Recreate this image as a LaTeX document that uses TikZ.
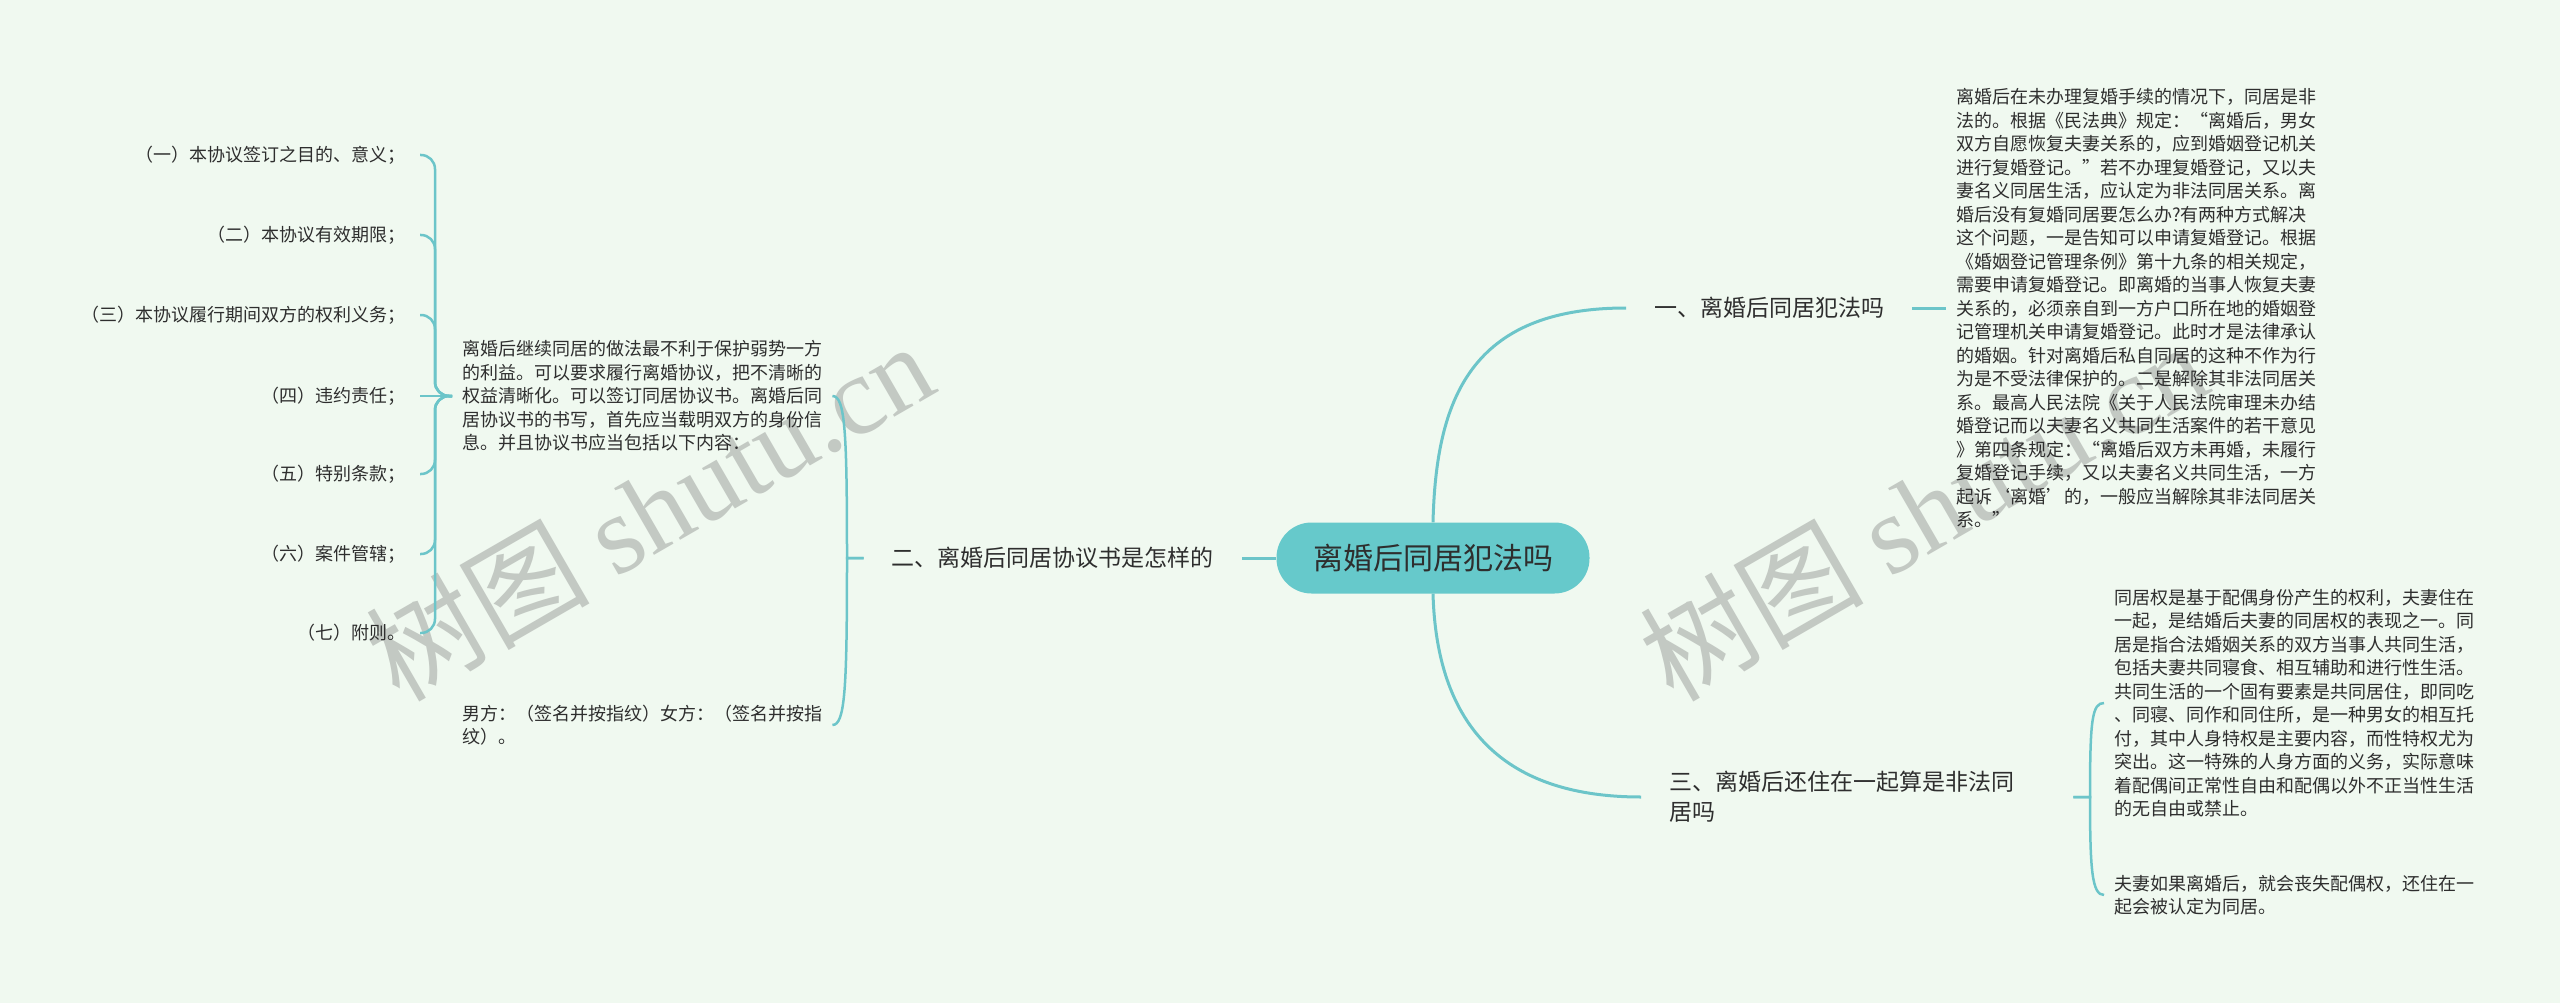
\documentclass[tikz,border=0pt]{standalone}
\usepackage{fontspec}
\setmainfont{Noto Sans CJK SC}
\newfontfamily\wmfont{Liberation Serif}
\usetikzlibrary{calc}

\definecolor{bgmint}{HTML}{F0F9F0}
\definecolor{linkteal}{HTML}{6CC5C9}
\definecolor{rootteal}{HTML}{66C9CB}
\definecolor{inkgray}{HTML}{2E2E2E}
\definecolor{markgray}{HTML}{C3C9C3}

\tikzset{
	root/.style = {fill = rootteal, rounded corners = 35pt, minimum width = 313pt, minimum height = 71pt, text = inkgray, font = \fontsize{30}{36}\selectfont},
	branch/.style = {text = inkgray, inner xsep = 28pt, inner ysep = 0pt, align = left, font = \fontsize{23}{30}\selectfont},
	leaf/.style = {text = inkgray, inner xsep = 10pt, inner ysep = 0pt, align = left, font = \fontsize{18}{23.5}\selectfont},
	listitem/.style = {text = inkgray, inner xsep = 14pt, inner ysep = 0pt, anchor = east, font = \fontsize{18}{23.5}\selectfont},
	link/.style = {draw = linkteal, line width = 3pt},
	brace/.style = {draw = linkteal, line width = 2.5pt},
	wmark/.style = {text = markgray, rotate = 30, font = \fontsize{112}{112}\selectfont}
}

\begin{document}
\begin{tikzpicture}[x = 1pt, y = -1pt]
				\fill[bgmint] (0,0) rectangle (2560,1003);
				\useasboundingbox (0,0) rectangle (2560,1003);
				
				\node (wm1) at (649,510)[wmark]{树图 {\wmfont shutu.cn}};
				\node (wm2) at (1923,510)[wmark]{树图 {\wmfont shutu.cn}};
				
				\node (root) at (1433,558)[root]{离婚后同居犯法吗};
				
				\node (b1) at (1626,308)[branch, anchor = west]{一、离婚后同居犯法吗};
				\node (t1) at (1946,308)[leaf, anchor = west]{离婚后在未办理复婚手续的情况下，同居是非\\法的。根据《民法典》规定：“离婚后，男女\\双方自愿恢复夫妻关系的，应到婚姻登记机关\\进行复婚登记。”若不办理复婚登记，又以夫\\妻名义同居生活，应认定为非法同居关系。离\\婚后没有复婚同居要怎么办?有两种方式解决\\这个问题，一是告知可以申请复婚登记。根据\\《婚姻登记管理条例》第十九条的相关规定，\\需要申请复婚登记。即离婚的当事人恢复夫妻\\关系的，必须亲自到一方户口所在地的婚姻登\\记管理机关申请复婚登记。此时才是法律承认\\的婚姻。针对离婚后私自同居的这种不作为行\\为是不受法律保护的。二是解除其非法同居关\\系。最高人民法院《关于人民法院审理未办结\\婚登记而以夫妻名义共同生活案件的若干意见\\》第四条规定：“离婚后双方未再婚，未履行\\复婚登记手续，又以夫妻名义共同生活，一方\\起诉‘离婚’的，一般应当解除其非法同居关\\系。”};
				
				\node (b2) at (1242,558)[branch, anchor = east]{二、离婚后同居协议书是怎样的};
				\node (t2a) at (452,396)[leaf, anchor = west, text width = 360pt]{离婚后继续同居的做法最不利于保护弱势一方\\的利益。可以要求履行离婚协议，把不清晰的\\权益清晰化。可以签订同居协议书。离婚后同\\居协议书的书写，首先应当载明双方的身份信\\息。并且协议书应当包括以下内容：};
				\node (t2b) at (452,725)[leaf, anchor = west, text width = 360pt]{男方：（签名并按指纹）女方：（签名并按指\\纹）。};
				
				\node (i1) at (420,155)[listitem]{（一）本协议签订之目的、意义；};
				\node (i2) at (420,235)[listitem]{（二）本协议有效期限；};
				\node (i3) at (420,315)[listitem]{（三）本协议履行期间双方的权利义务；};
				\node (i4) at (420,396)[listitem]{（四）违约责任；};
				\node (i5) at (420,474)[listitem]{（五）特别条款；};
				\node (i6) at (420,554)[listitem]{（六）案件管辖；};
				\node (i7) at (420,633)[listitem]{（七）附则。};
				
				\node (b3) at (1641,797)[branch, anchor = west, text width = 376pt]{三、离婚后还住在一起算是非法同\\居吗};
				\node (t3a) at (2104,703)[leaf, anchor = west]{同居权是基于配偶身份产生的权利，夫妻住在\\一起，是结婚后夫妻的同居权的表现之一。同\\居是指合法婚姻关系的双方当事人共同生活，\\包括夫妻共同寝食、相互辅助和进行性生活。\\共同生活的一个固有要素是共同居住，即同吃\\、同寝、同作和同住所，是一种男女的相互托\\付，其中人身特权是主要内容，而性特权尤为\\突出。这一特殊的人身方面的义务，实际意味\\着配偶间正常性自由和配偶以外不正当性生活\\的无自由或禁止。};
				\node (t3b) at (2104,895)[leaf, anchor = west]{夫妻如果离婚后，就会丧失配偶权，还住在一\\起会被认定为同居。};
				
				\draw[link] (root.north) .. controls (1436,400) and (1470,308) .. (b1.west);
				\draw[link] (b1.east) -- (t1.west);
				
				\draw[link] (root.west) -- (b2.east);
				\draw[brace] (b2.west) -- (847,558) .. controls (847,430) and (845,396) .. (t2a.east);
				\draw[brace] (b2.west) -- (847,558) .. controls (847,690) and (845,725) .. (t2b.east);
				
				\draw[brace, rounded corners = 14pt] (t2a.west) -- (435,396) -- (435,155) -- (i1.east);
				\draw[brace, rounded corners = 14pt] (t2a.west) -- (435,396) -- (435,235) -- (i2.east);
				\draw[brace, rounded corners = 14pt] (t2a.west) -- (435,396) -- (435,315) -- (i3.east);
				\draw[brace] (t2a.west) -- (i4.east);
				\draw[brace, rounded corners = 14pt] (t2a.west) -- (435,396) -- (435,474) -- (i5.east);
				\draw[brace, rounded corners = 14pt] (t2a.west) -- (435,396) -- (435,554) -- (i6.east);
				\draw[brace, rounded corners = 14pt] (t2a.west) -- (435,396) -- (435,633) -- (i7.east);
				
				\draw[link] (root.south) .. controls (1436,700) and (1480,797) .. (b3.west);
				\draw[brace] (b3.east) -- (2090,797) .. controls (2090,720) and (2092,703) .. (t3a.west);
				\draw[brace] (b3.east) -- (2090,797) .. controls (2090,870) and (2092,895) .. (t3b.west);
			\end{tikzpicture}
\end{document}
